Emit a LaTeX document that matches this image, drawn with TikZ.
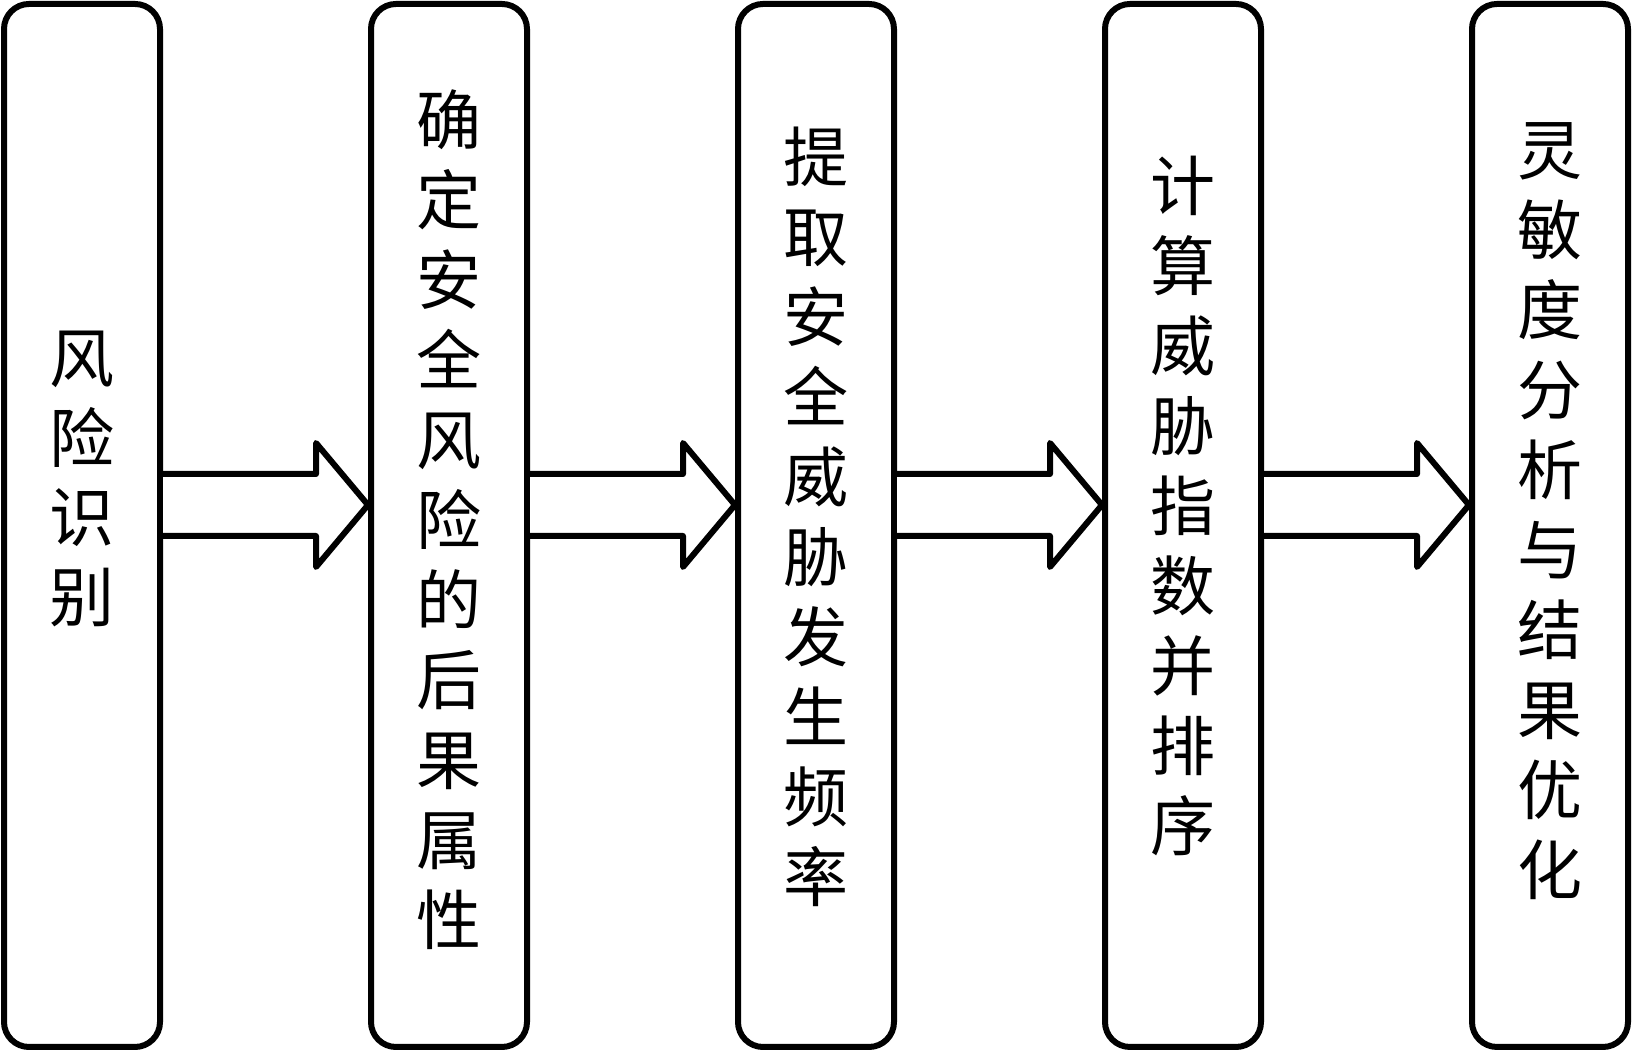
\documentclass[tikz,border=0pt]{standalone}
\usepackage{fontspec}
\newfontfamily\cjk{Noto Sans CJK SC}
\usetikzlibrary{calc}

\tikzset{
  stepbox/.style={draw, line width=0.06cm, rounded corners=0.25cm, minimum width=1.56cm, minimum height=10.43cm, inner sep=0pt},
  steptext/.style={align=center, inner sep=0pt, font=\cjk\fontsize{18.5}{22.76}\selectfont},
  blockarrow/.style={draw, fill=white, line width=0.06cm, line join=round}
}

\begin{document}
\begin{tikzpicture}
            \useasboundingbox (0,0) rectangle (16.36,10.57);
            \node[stepbox] (b1) at (0.82,5.315) {};
            \node[stepbox] (b2) at (4.49,5.315) {};
            \node[stepbox] (b3) at (8.16,5.315) {};
            \node[stepbox] (b4) at (11.83,5.315) {};
            \node[stepbox] (b5) at (15.50,5.315) {};
            \node[steptext] (t1) at ($(b1)+(0,0.465)$) {风\\险\\识\\别};
            \node[steptext] (t2) at ($(b2)+(0,0.055)$) {确\\定\\安\\全\\风\\险\\的\\后\\果\\属\\性};
            \node[steptext] (t3) at ($(b3)+(0,0.085)$) {提\\取\\安\\全\\威\\胁\\发\\生\\频\\率};
            \node[steptext] (t4) at ($(b4)+(0,0.195)$) {计\\算\\威\\胁\\指\\数\\并\\排\\序};
            \node[steptext] (t5) at ($(b5)+(0,0.145)$) {灵\\敏\\度\\分\\析\\与\\结\\果\\优\\化};
            \foreach \i [evaluate=\i as \j using int(\i+1)] in {1,...,4} {
              \coordinate (tip\i) at ($(b\j.west)+(0,0.205)$);
              \draw[blockarrow] ($(b\i.east |- tip\i)+(0,0.31)$) -- ($(tip\i)+(-0.52,0.31)$)
                -- ($(tip\i)+(-0.52,0.62)$) -- (tip\i) -- ($(tip\i)+(-0.52,-0.62)$)
                -- ($(tip\i)+(-0.52,-0.31)$) -- ($(b\i.east |- tip\i)+(0,-0.31)$);
            }
        \end{tikzpicture}
\end{document}
